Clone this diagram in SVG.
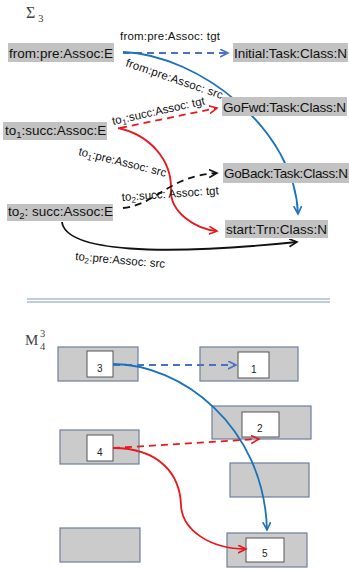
<svg xmlns="http://www.w3.org/2000/svg" width="349" height="569" viewBox="0 0 349 569">
<style>
.nbox{fill:#c2c2c2;stroke:none}
.ntxt{font-family:"Liberation Sans",Arial,sans-serif;font-size:13.5px;fill:#111}
.lbl{font-family:"Liberation Sans",Arial,sans-serif;font-size:11.5px;fill:#111}
.math{font-family:"Liberation Serif","DejaVu Serif",serif;fill:#444}
.obox{fill:#cbcbcb;stroke:#6e7f9f;stroke-width:1.2}
.ibox{fill:#fff;stroke:#555;stroke-width:1}
.num{font-family:"Liberation Sans",Arial,sans-serif;font-size:10px;fill:#222}
.e{fill:none;stroke-width:1.8}
.dash{stroke-dasharray:7,5}
.blue{stroke:#1b72bb}
.lblue{stroke:#4a72c0}
.red{stroke:#e8191e}
.blk{stroke:#111}
</style>
<defs>
<marker id="aBlue" markerUnits="userSpaceOnUse" markerWidth="12" markerHeight="12" refX="8" refY="4" orient="auto"><path d="M0,0 L8,4 L0,8" fill="none" stroke="#1b72bb" stroke-width="1.6"/></marker>
<marker id="aLBlue" markerUnits="userSpaceOnUse" markerWidth="12" markerHeight="12" refX="8" refY="4" orient="auto"><path d="M0,0 L8,4 L0,8" fill="none" stroke="#4a72c0" stroke-width="1.6"/></marker>
<marker id="aRed" markerUnits="userSpaceOnUse" markerWidth="12" markerHeight="12" refX="8" refY="4" orient="auto"><path d="M0,0 L8,4 L0,8" fill="none" stroke="#e8191e" stroke-width="1.6"/></marker>
<marker id="aBlk" markerUnits="userSpaceOnUse" markerWidth="12" markerHeight="12" refX="8" refY="4" orient="auto"><path d="M0,0 L8,4 L0,8" fill="none" stroke="#111" stroke-width="1.6"/></marker>
</defs>
<rect width="349" height="569" fill="#fff"/>

<!-- titles -->
<g id="title-sigma">
<text class="math" x="26" y="18" font-size="16">Σ</text>
<text class="math" x="38" y="22" font-size="11">3</text>
</g>
<g id="title-m">
<text class="math" x="25" y="345" font-size="15">M</text>
<text class="math" x="40" y="337" font-size="10.5">3</text>
<text class="math" x="40" y="350" font-size="10.5">4</text>
</g>

<!-- separator -->
<g id="separator">
<line x1="27" y1="299" x2="330" y2="299" stroke="#8796b5" stroke-width="1.2"/>
<line x1="27" y1="302" x2="330" y2="302" stroke="#8796b5" stroke-width="1.2"/>
</g>

<!-- top connectors -->
<g id="connectors-top">
<path class="e lblue dash" d="M123,53 L228,53" marker-end="url(#aLBlue)"/>
<path class="e blue" d="M123,52 C200,55 295,130 298,214" marker-end="url(#aBlue)"/>
<path class="e red dash" d="M120,128 L217,108" marker-end="url(#aRed)"/>
<path class="e red" d="M118,128 C150,135 172,160 171,190 C170,212 195,229 217,231" marker-end="url(#aRed)"/>
<path class="e blk dash" d="M123,208 C158,204 168,176 217,173" marker-end="url(#aBlk)"/>
<path class="e blk" d="M62,222 C66,252 160,256 297,242" marker-end="url(#aBlk)"/>
</g>

<!-- top edge labels -->
<g id="edge-labels">
<text class="lbl" x="120" y="40" textLength="100">from:pre:Assoc: tgt</text>
<text class="lbl" transform="translate(125,66) rotate(19)" textLength="102">from:pre:Assoc: src</text>
<text class="lbl" transform="translate(113,125) rotate(-12.6)">to<tspan font-size="8" dy="2.5">1</tspan><tspan dy="-2.5">:succ:Assoc: tgt</tspan></text>
<text class="lbl" transform="translate(78,155) rotate(14)">to<tspan font-size="8" dy="2.5">1</tspan><tspan dy="-2.5">:pre:Assoc: src</tspan></text>
<text class="lbl" transform="translate(122,201) rotate(-4)">to<tspan font-size="8" dy="2.5">2</tspan><tspan dy="-2.5">:succ: Assoc: tgt</tspan></text>
<text class="lbl" transform="translate(75,260) rotate(5)">to<tspan font-size="8" dy="2.5">2</tspan><tspan dy="-2.5">:pre:Assoc: src</tspan></text>
</g>

<!-- top nodes -->
<g id="node-from">
<rect class="nbox" x="8" y="43" width="106" height="19"/>
<text class="ntxt" x="9" y="58" textLength="104">from:pre:Assoc:E</text>
</g>
<g id="node-initial">
<rect class="nbox" x="233" y="43" width="115" height="19"/>
<text class="ntxt" x="234" y="58" textLength="113">Initial:Task:Class:N</text>
</g>
<g id="node-to1">
<rect class="nbox" x="3" y="122" width="104" height="18"/>
<text class="ntxt" x="5" y="135">to<tspan font-size="9.5" dy="3">1</tspan><tspan dy="-3">:succ:Assoc:E</tspan></text>
</g>
<g id="node-gofwd">
<rect class="nbox" x="222" y="97" width="125" height="19"/>
<text class="ntxt" x="223" y="112" textLength="123">GoFwd:Task:Class:N</text>
</g>
<g id="node-goback">
<rect class="nbox" x="223" y="163" width="126" height="20"/>
<text class="ntxt" x="224" y="178" textLength="124">GoBack:Task:Class:N</text>
</g>
<g id="node-to2">
<rect class="nbox" x="7" y="204" width="106" height="17"/>
<text class="ntxt" x="8" y="216">to<tspan font-size="9.5" dy="3">2</tspan><tspan dy="-3">: succ:Assoc:E</tspan></text>
</g>
<g id="node-start">
<rect class="nbox" x="225" y="220" width="103" height="18"/>
<text class="ntxt" x="226" y="234" textLength="101">start:Trn:Class:N</text>
</g>

<!-- bottom nodes -->
<g id="box-3">
<rect class="obox" x="58" y="347" width="80" height="34"/>
<rect class="ibox" x="87" y="351" width="26" height="26"/>
<text class="num" x="97" y="372">3</text>
</g>
<g id="box-1">
<rect class="obox" x="200" y="347" width="98" height="34"/>
<rect class="ibox" x="238" y="352" width="31" height="26"/>
<text class="num" x="251" y="373">1</text>
</g>
<g id="box-2">
<rect class="obox" x="212" y="406" width="99" height="33"/>
<rect class="ibox" x="242" y="412" width="37" height="25"/>
<text class="num" x="257" y="432">2</text>
</g>
<g id="box-4">
<rect class="obox" x="60" y="430" width="79" height="34"/>
<rect class="ibox" x="87" y="435" width="26" height="26"/>
<text class="num" x="97" y="456">4</text>
</g>
<g id="box-empty-right">
<rect class="obox" x="230" y="463" width="79" height="34"/>
</g>
<g id="box-empty-left">
<rect class="obox" x="60" y="528" width="80" height="34"/>
</g>
<g id="box-5">
<rect class="obox" x="227" y="533" width="80" height="34"/>
<rect class="ibox" x="246" y="538" width="38" height="24"/>
<text class="num" x="262" y="557">5</text>
</g>

<!-- bottom connectors -->
<g id="connectors-bottom">
<path class="e lblue dash" d="M113,365 L236,365" marker-end="url(#aLBlue)"/>
<path class="e blue" d="M113,364 C180,364 264,425 267,530" marker-end="url(#aBlue)"/>
<path class="e red dash" d="M113,448 L259,439" marker-end="url(#aRed)"/>
<path class="e red" d="M113,448 C160,448 180,475 181,505 C182,530 210,549 246,549" marker-end="url(#aRed)"/>
</g>
</svg>
